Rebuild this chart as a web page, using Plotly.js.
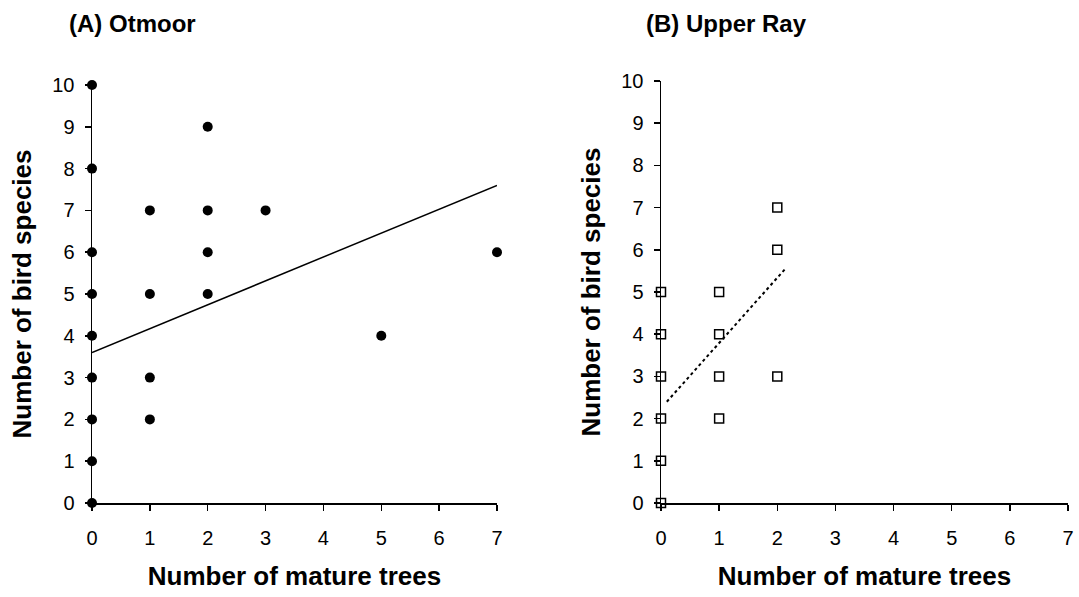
<!DOCTYPE html>
<html><head><meta charset="utf-8">
<script src="https://cdn.plot.ly/plotly-3.0.1.min.js"></script>
<style>html,body{margin:0;padding:0;background:#fff}#chart{width:1079px;height:597px}</style>
</head><body><div id="chart"></div>
<script>
// Panel A: Otmoor
const otmoorTrees   = [0,0,0,0,0,0,0,0,0, 1,1,1,1, 2,2,2,2, 3, 5, 7];
const otmoorSpecies = [0,1,2,3,4,5,6,8,10, 2,3,5,7, 5,6,7,9, 7, 4, 6];
const otmoorFitX = [0, 7];
const otmoorFitY = [3.6, 7.6];
// Panel B: Upper Ray
const rayTrees   = [0,0,0,0,0,0, 1,1,1,1, 2,2,2];
const raySpecies = [0,1,2,3,4,5, 2,3,4,5, 3,6,7];
const rayFitX = [0.1, 2.15];
const rayFitY = [2.4, 5.57];
const xTicks = [0,1,2,3,4,5,6,7];
const yTicks = [0,1,2,3,4,5,6,7,8,9,10];

const W = 1079, H = 597;
const font = {family: 'Arial, "Liberation Sans", sans-serif', color: '#000'};

const traces = [
  {x: otmoorFitX, y: otmoorFitY, mode: 'lines', line: {color: '#000', width: 1.5}, xaxis: 'x', yaxis: 'y', cliponaxis: false, hoverinfo: 'skip'},
  {x: otmoorTrees, y: otmoorSpecies, mode: 'markers', marker: {symbol: 'circle', size: 10, color: '#000'}, xaxis: 'x', yaxis: 'y', cliponaxis: false},
  {x: rayFitX, y: rayFitY, mode: 'lines', line: {color: '#000', width: 2, dash: 'dot'}, xaxis: 'x2', yaxis: 'y2', cliponaxis: false, hoverinfo: 'skip'},
  {x: rayTrees, y: raySpecies, mode: 'markers', marker: {symbol: 'square-open', size: 9, color: '#000', line: {color: '#000', width: 1.5}}, xaxis: 'x2', yaxis: 'y2', cliponaxis: false}
];

function xax(d0, d1, anchor) {
  return {domain: [d0 / W, d1 / W], range: [0, 7], tickvals: xTicks, ticktext: xTicks.map(String),
    showline: true, linecolor: '#000', linewidth: 1.5, ticks: 'outside', ticklen: 6, tickwidth: 1.5, tickcolor: '#000',
    ticklabelstandoff: 10,
    showgrid: false, zeroline: false, anchor: anchor, tickfont: Object.assign({size: 20}, font),
    title: {text: 'Number of mature trees', font: Object.assign({size: 26, weight: 'bold'}, font), standoff: 19},
    automargin: false, fixedrange: true};
}
function yax(top, anchor) {
  return {domain: [1 - 503 / H, 1 - top / H], range: [0, 10], tickvals: yTicks, ticktext: yTicks.map(String),
    showline: true, linecolor: '#000', linewidth: 1.5, ticks: 'outside', ticklen: 6, tickwidth: 1.5, tickcolor: '#000',
    ticklabelstandoff: 6,
    showgrid: false, zeroline: false, anchor: anchor, tickfont: Object.assign({size: 20}, font),
    title: {text: 'Number of bird species', font: Object.assign({size: 26, weight: 'bold'}, font), standoff: 13},
    automargin: false, fixedrange: true};
}

const layout = {
  width: W, height: H, margin: {l: 0, r: 0, t: 0, b: 0},
  paper_bgcolor: '#fff', plot_bgcolor: '#fff', showlegend: false,
  xaxis: xax(92, 497, 'y'), yaxis: yax(85, 'x'),
  xaxis2: xax(661, 1068, 'y2'), yaxis2: yax(81, 'x2'),
  annotations: [
    {text: '<b>(A) Otmoor</b>', xref: 'paper', yref: 'paper', x: 67 / W, y: 1 - 23 / H, xanchor: 'left', yanchor: 'middle', showarrow: false, font: Object.assign({size: 24}, font)},
    {text: '<b>(B) Upper Ray</b>', xref: 'paper', yref: 'paper', x: 644 / W, y: 1 - 23 / H, xanchor: 'left', yanchor: 'middle', showarrow: false, font: Object.assign({size: 24}, font)}
  ]
};

Plotly.newPlot('chart', traces, layout, {displayModeBar: false, staticPlot: true});
</script></body></html>
